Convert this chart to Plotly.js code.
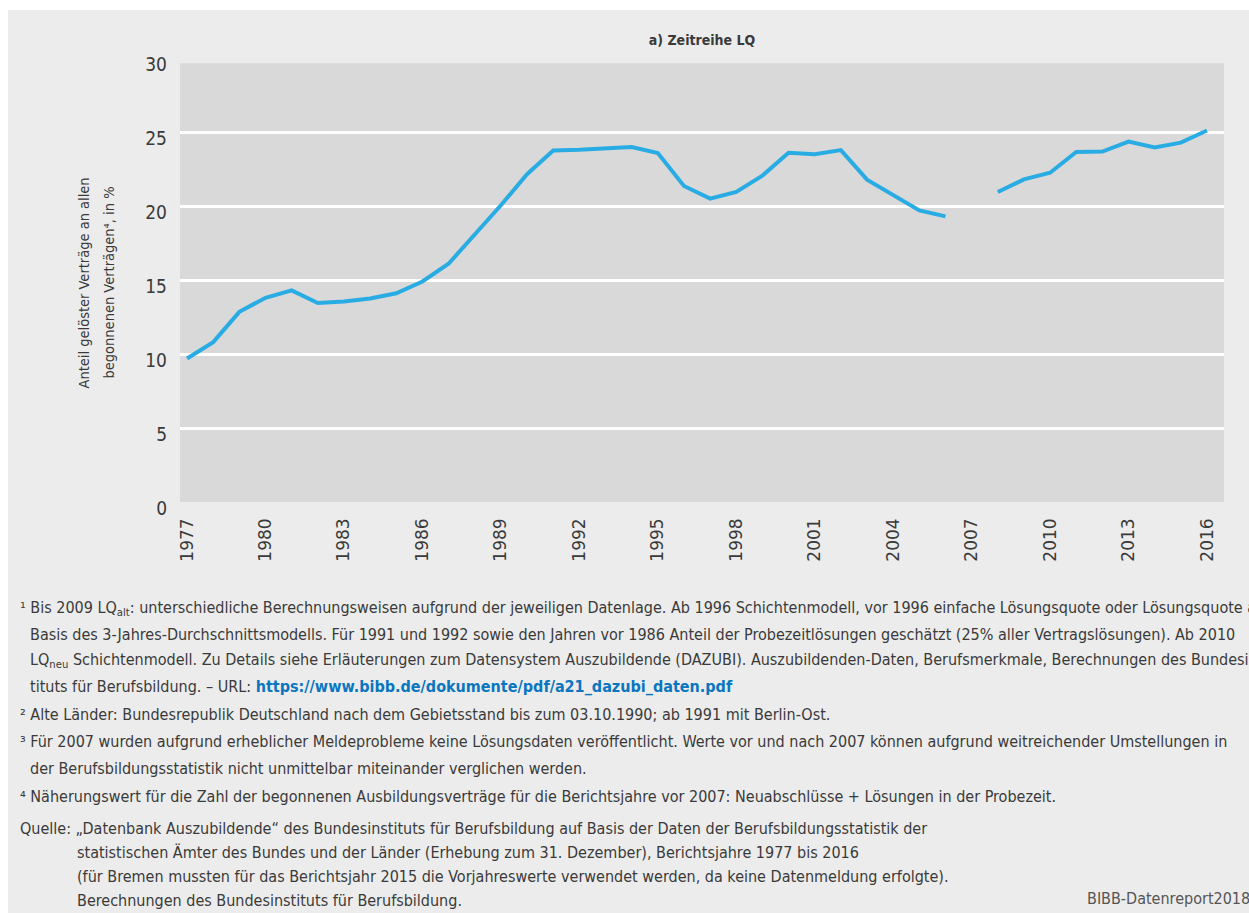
<!DOCTYPE html>
<html>
<head>
<meta charset="utf-8">
<script src="https://cdn.plot.ly/plotly-3.0.1.min.js"></script>
<style>
  html, body { margin: 0; padding: 0; background: #ffffff; width: 1249px; height: 913px; overflow: hidden; }
  #chart { position: absolute; left: 8px; top: 10px; width: 1241px; height: 903px; }
</style>
</head>
<body>
<div id="chart"></div>
<script>
// ---- Data ----
const years = [1977, 1978, 1979, 1980, 1981, 1982, 1983, 1984, 1985, 1986,
               1987, 1988, 1989, 1990, 1991, 1992, 1993, 1994, 1995, 1996,
               1997, 1998, 1999, 2000, 2001, 2002, 2003, 2004, 2005, 2006,
               2007, 2008, 2009, 2010, 2011, 2012, 2013, 2014, 2015, 2016];
const lqValues = [9.7, 10.8, 12.85, 13.8, 14.3, 13.45, 13.55, 13.75, 14.1, 14.9,
                  16.1, 18.05, 20.05, 22.15, 23.75, 23.8, 23.88, 23.98, 23.58, 21.35,
                  20.5, 20.95, 22.05, 23.6, 23.5, 23.78, 21.78, 20.72, 19.7, 19.3,
                  null, 20.95, 21.8, 22.25, 23.65, 23.68, 24.35, 23.95, 24.28, 25.1];
const xTickYears = [1977, 1980, 1983, 1986, 1989, 1992, 1995, 1998, 2001, 2004, 2007, 2010, 2013, 2016];
const yTicks = [0, 5, 10, 15, 20, 25, 30];
const yGridTicks = [5, 10, 15, 20, 25];

const chartTitle = '<b>a) Zeitreihe LQ</b>';
const yTitleLines = ['Anteil gelöster Verträge an allen', 'begonnenen Verträgen⁴, in %'];

const footnoteLines = [
  ['¹ Bis 2009 LQ<sub>alt</sub>: unterschiedliche Berechnungsweisen aufgrund der jeweiligen Datenlage. Ab 1996 Schichtenmodell, vor 1996 einfache Lösungsquote oder Lösungsquote auf', 18, 608],
  ['Basis des 3-Jahres-Durchschnittsmodells. Für 1991 und 1992 sowie den Jahren vor 1986 Anteil der Probezeitlösungen geschätzt (25% aller Vertragslösungen). Ab 2010', 28, 634],
  ['LQ<sub>neu</sub> Schichtenmodell. Zu Details siehe Erläuterungen zum Datensystem Auszubildende (DAZUBI). Auszubildenden-Daten, Berufsmerkmale, Berechnungen des Bundesins-', 28, 660],
  ['tituts für Berufsbildung. – URL: <b><span style="color:#0a76c0">https://www.bibb.de/dokumente/pdf/a21_dazubi_daten.pdf</span></b>', 28, 686],
  ['² Alte Länder: Bundesrepublik Deutschland nach dem Gebietsstand bis zum 03.10.1990; ab 1991 mit Berlin-Ost.', 18, 714],
  ['³ Für 2007 wurden aufgrund erheblicher Meldeprobleme keine Lösungsdaten veröffentlicht. Werte vor und nach 2007 können aufgrund weitreichender Umstellungen in', 18, 741],
  ['der Berufsbildungsstatistik nicht unmittelbar miteinander verglichen werden.', 28, 768],
  ['⁴ Näherungswert für die Zahl der begonnenen Ausbildungsverträge für die Berichtsjahre vor 2007: Neuabschlüsse + Lösungen in der Probezeit.', 18, 796],
  ['Quelle: „Datenbank Auszubildende“ des Bundesinstituts für Berufsbildung auf Basis der Daten der Berufsbildungsstatistik der', 18, 828],
  ['statistischen Ämter des Bundes und der Länder (Erhebung zum 31. Dezember), Berichtsjahre 1977 bis 2016', 75, 852],
  ['(für Bremen mussten für das Berichtsjahr 2015 die Vorjahreswerte verwendet werden, da keine Datenmeldung erfolgte).', 75, 876],
  ['Berechnungen des Bundesinstituts für Berufsbildung.', 75, 900]
];
const creditText = 'BIBB-Datenreport2018';

// ---- Layout geometry (page pixels) ----
const W = 1241, H = 903, offX = 8, offY = 10;
const mL = 172, mR = 25, mT = 48, mB = 411;
const plotLeftPage = offX + mL, plotW = W - mL - mR;
const plotBottomPage = offY + H - mB, plotH = H - mT - mB;
function px(xPage) { return (xPage - plotLeftPage) / plotW; }
function py(yPage) { return (plotBottomPage - yPage) / plotH; }

const FONT = '"Liberation Sans Narrow", "DejaVu Sans Condensed", "Arial Narrow", sans-serif';
const TXT = '#3a3a3a';

const annotations = [];
yTitleLines.forEach((t, i) => {
  annotations.push({
    text: t, xref: 'paper', yref: 'paper',
    x: px(i === 0 ? 83.5 : 108.5), y: py(283),
    xanchor: 'center', yanchor: 'middle', textangle: -90, showarrow: false,
    font: { family: FONT, size: 14.5, color: TXT }
  });
});
footnoteLines.forEach(([t, xp, yp]) => {
  annotations.push({
    text: t, xref: 'paper', yref: 'paper', x: px(xp), y: py(yp),
    xanchor: 'left', yanchor: 'middle', showarrow: false, align: 'left',
    font: { family: FONT, size: 16, color: TXT }
  });
});
annotations.push({
  text: creditText, xref: 'paper', yref: 'paper', x: px(1085), y: py(899),
  xanchor: 'left', yanchor: 'middle', showarrow: false,
  font: { family: FONT, size: 16, color: '#555555' }
});

const traces = [{
  x: years, y: lqValues, type: 'scatter', mode: 'lines',
  connectgaps: false,
  line: { color: '#29ace3', width: 4, shape: 'linear' },
  hoverinfo: 'x+y', showlegend: false
}, {
  // empty helper trace so that the grid-only axis (yaxis2) is drawn
  x: [], y: [], type: 'scatter', mode: 'lines', yaxis: 'y2',
  hoverinfo: 'skip', showlegend: false
}];

const layout = {
  width: W, height: H,
  margin: { l: mL, r: mR, t: mT, b: mB, pad: 0 },
  paper_bgcolor: '#ececec',
  plot_bgcolor: 'rgba(0,0,0,0)',
  showlegend: false,
  title: {
    text: chartTitle, xref: 'paper', x: 0.5, xanchor: 'center',
    yref: 'container', y: 1 - 30 / H, yanchor: 'middle',
    font: { family: FONT, size: 14, color: TXT }
  },
  xaxis: {
    range: [1976.73, 2016.65], tickmode: 'array', tickvals: xTickYears,
    tickangle: -90, ticks: '', showgrid: false, zeroline: false, showline: false,
    ticklabelstandoff: 12,
    tickfont: { family: '"DejaVu Sans", sans-serif', size: 17, color: TXT }
  },
  yaxis: {
    range: [0, 30], tickmode: 'array', tickvals: yTicks,
    ticks: '', showgrid: false, zeroline: false, showline: false,
    ticklabelstandoff: 12, ticklabelshift: 6,
    tickfont: { family: FONT, size: 19, color: TXT }
  },
  yaxis2: {
    overlaying: 'y', side: 'left', range: [0, 30], tickmode: 'array', tickvals: yGridTicks,
    showticklabels: false, ticks: '', showgrid: true, gridcolor: '#ffffff', gridwidth: 3,
    zeroline: false, showline: false
  },
  shapes: [{
    type: 'rect', xref: 'x domain', yref: 'y', x0: 0, x1: 1, y0: 0, y1: 29.64,
    fillcolor: '#d9d9d9', line: { width: 0 }, layer: 'below'
  }],
  annotations: annotations
};

Plotly.newPlot('chart', traces, layout, { displayModeBar: false, staticPlot: true });
</script>
</body>
</html>
